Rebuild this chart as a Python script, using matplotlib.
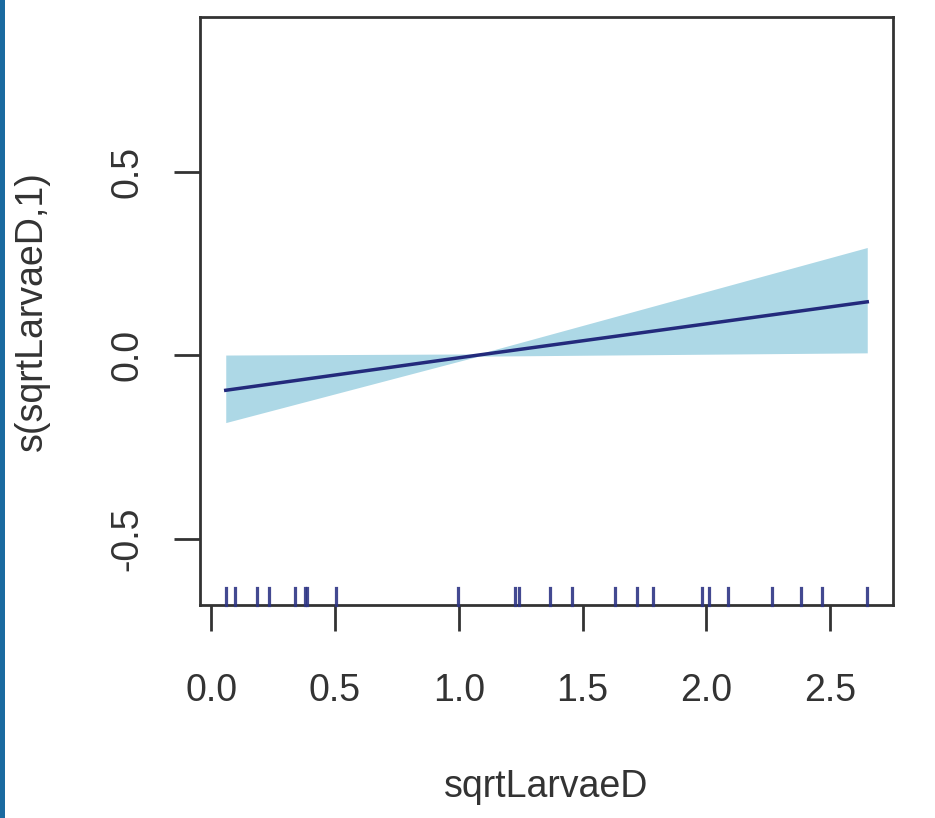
import matplotlib
matplotlib.use("Agg")
import matplotlib.pyplot as plt

plt.rcParams['font.family'] = ['Liberation Sans', 'DejaVu Sans']

# smooth term estimate and its confidence band
x_fit = [0.059, 1.08, 2.65]
fit = [-0.096, 0.0, 0.145]
lower = [-0.184, -0.003, 0.006]
upper = [0.0, 0.003, 0.293]

# observed covariate values (rug)
rug_x = [0.059, 0.095, 0.185, 0.234, 0.339, 0.381, 0.387, 0.506, 0.999,
         1.226, 1.242, 1.367, 1.456, 1.633, 1.722, 1.786, 1.984, 2.012,
         2.089, 2.266, 2.383, 2.468, 2.650]

x_ticks = [0.0, 0.5, 1.0, 1.5, 2.0, 2.5]
y_ticks = [-0.5, 0.0, 0.5]

W, H = 935, 818
fig = plt.figure(figsize=(W / 100, H / 100), dpi=100)
fig.patch.set_facecolor('white')

ax = fig.add_axes([200 / W, (H - 605) / H, 693 / W, 588 / H])

ax.fill_between(x_fit, lower, upper, color='#add8e6', linewidth=0, zorder=1)
ax.plot(x_fit, fit, color='#232a7c', linewidth=2.5, zorder=3)

# rug along the bottom of the panel
for rx in rug_x:
    ax.plot([rx, rx], [0, 0.029], transform=ax.get_xaxis_transform(),
            color='#2e3585', linewidth=2.3, alpha=0.9, zorder=4, clip_on=False)

ax.set_xlim(-0.045, 2.754)
ax.set_ylim(-0.681, 0.921)

ax.set_xticks(x_ticks)
ax.set_xticklabels([f"{v:.1f}" for v in x_ticks])
ax.set_yticks(y_ticks)
ax.set_yticklabels([f"{v:.1f}" for v in y_ticks], rotation=90, va='center')

for s in ax.spines.values():
    s.set_linewidth(2.0)
    s.set_color('#333333')

ax.tick_params(axis='both', direction='out', length=19, width=2.0,
               colors='#333333', labelcolor='#333333', labelsize=27)
ax.tick_params(axis='x', pad=30)
ax.tick_params(axis='y', pad=20)

ax.set_xlabel('sqrtLarvaeD', fontsize=27, color='#333333')
ax.set_ylabel('s(sqrtLarvaeD,1)', fontsize=27, color='#333333')
ax.xaxis.label.set_va('center')
ax.yaxis.label.set_va('center')
ax.xaxis.set_label_coords(0.5, (605 - 787) / 588)
ax.yaxis.set_label_coords((32 - 200) / 693, 0.5)

# blue frame strip on the left edge
fig.patches.append(plt.Rectangle((0, 0), 5 / W, 1, transform=fig.transFigure,
                                 facecolor='#1a6aa0', edgecolor='none'))

fig.savefig('out.png', dpi=100)
